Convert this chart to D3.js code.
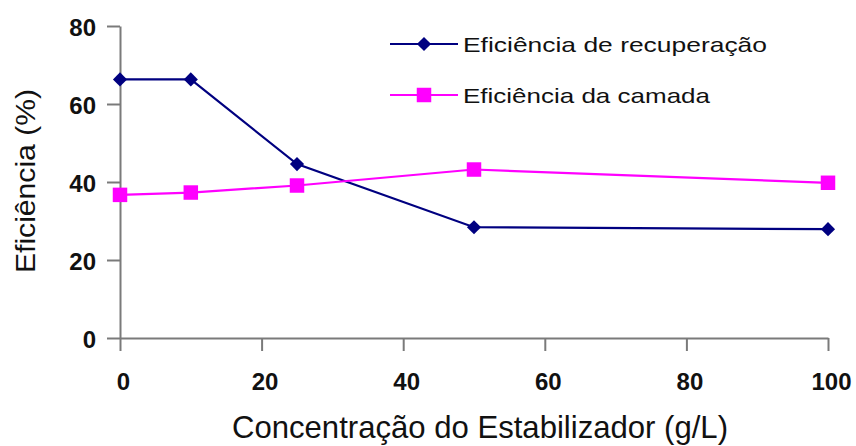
<!DOCTYPE html>
<html>
<head>
<meta charset="utf-8">
<script src="https://cdn.jsdelivr.net/npm/d3@7"></script>
<style>
  html, body { margin: 0; padding: 0; background: #fff; }
  svg { display: block; }
</style>
</head>
<body>
<svg id="chart" width="856" height="446"></svg>
<script>
const concentrations = [0, 10, 25, 50, 100];
const eficienciaRecuperacao = [66.3, 66.3, 44.6, 28.4, 27.9];
const eficienciaCamada = [36.7, 37.3, 39.1, 43.2, 39.8];
const seriesNames = ["Eficiência de recuperação", "Eficiência da camada"];
const xTicks = [0, 20, 40, 60, 80, 100];
const yTicks = [0, 20, 40, 60, 80];
const xTitle = "Concentração do Estabilizador (g/L)";
const yTitle = "Eficiência (%)";

const svg = d3.select("#chart");
const x = d3.scaleLinear().domain([0, 100]).range([120, 828]);
const y = d3.scaleLinear().domain([0, 80]).range([338, 26]);
const axisColor = "#7a7a7a";

// X axis
const gx = svg.append("g").attr("transform", `translate(0,${y(0)})`)
  .call(d3.axisBottom(x).tickValues(xTicks).tickSize(13).tickSizeOuter(0).tickPadding(22));
gx.select(".domain").attr("stroke", axisColor).attr("stroke-width", 2);
gx.selectAll(".tick line").attr("stroke", axisColor).attr("stroke-width", 2);
gx.selectAll(".tick text").attr("font-family", "Liberation Sans, Arial, sans-serif")
  .attr("font-weight", "bold").attr("font-size", 24).attr("fill", "#111").attr("dx", 3);

// Y axis
const gy = svg.append("g").attr("transform", `translate(${x(0)},0)`)
  .call(d3.axisLeft(y).tickValues(yTicks).tickSize(13).tickSizeOuter(0).tickPadding(11));
gy.select(".domain").attr("stroke", axisColor).attr("stroke-width", 2);
gy.selectAll(".tick line").attr("stroke", axisColor).attr("stroke-width", 2);
gy.selectAll(".tick text").attr("font-family", "Liberation Sans, Arial, sans-serif")
  .attr("font-weight", "bold").attr("font-size", 24).attr("fill", "#111").attr("dy", "0.38em");

// Titles
svg.append("text").attr("x", 480).attr("y", 438).attr("text-anchor", "middle")
  .attr("font-family", "Liberation Sans, Arial, sans-serif").attr("font-size", 32)
  .attr("textLength", 496).attr("lengthAdjust", "spacingAndGlyphs")
  .attr("fill", "#111").text(xTitle);

svg.append("text").attr("transform", "translate(35,181) rotate(-90)").attr("text-anchor", "middle")
  .attr("font-family", "Liberation Sans, Arial, sans-serif").attr("font-size", 28)
  .attr("textLength", 184).attr("lengthAdjust", "spacingAndGlyphs")
  .attr("fill", "#111").text(yTitle);

// Series
const series = [
  {name: seriesNames[0], values: eficienciaRecuperacao, color: "#000080", marker: d3.symbolSquare, size: 100, rotate: 45},
  {name: seriesNames[1], values: eficienciaCamada, color: "#ff00ff", marker: d3.symbolSquare, size: 210, rotate: 0}
];
const line = d3.line().x(d => x(d[0])).y(d => y(d[1]));

series.forEach(s => {
  const pts = concentrations.map((c, i) => [c, s.values[i]]);
  svg.append("path").attr("d", line(pts)).attr("fill", "none")
    .attr("stroke", s.color).attr("stroke-width", 2.2);
  svg.selectAll(null).data(pts).enter().append("path")
    .attr("d", d3.symbol().type(s.marker).size(s.size))
    .attr("transform", d => `translate(${x(d[0])},${y(d[1])}) rotate(${s.rotate})`)
    .attr("fill", s.color);
});

// Legend
const legendY = [44, 95];
series.forEach((s, i) => {
  const g = svg.append("g").attr("transform", `translate(0,${legendY[i]})`);
  g.append("line").attr("x1", 390).attr("x2", 458).attr("y1", 0).attr("y2", 0)
    .attr("stroke", s.color).attr("stroke-width", 2.2);
  g.append("path").attr("d", d3.symbol().type(s.marker).size(s.size))
    .attr("transform", `translate(424,0) rotate(${s.rotate})`).attr("fill", s.color);
  g.append("text").attr("x", 463).attr("y", 8)
    .attr("font-family", "Liberation Sans, Arial, sans-serif").attr("font-size", 21)
    .attr("fill", "#111")
    .attr("textLength", i === 0 ? 304 : 247).attr("lengthAdjust", "spacingAndGlyphs")
    .text(s.name);
});
</script>
</body>
</html>
